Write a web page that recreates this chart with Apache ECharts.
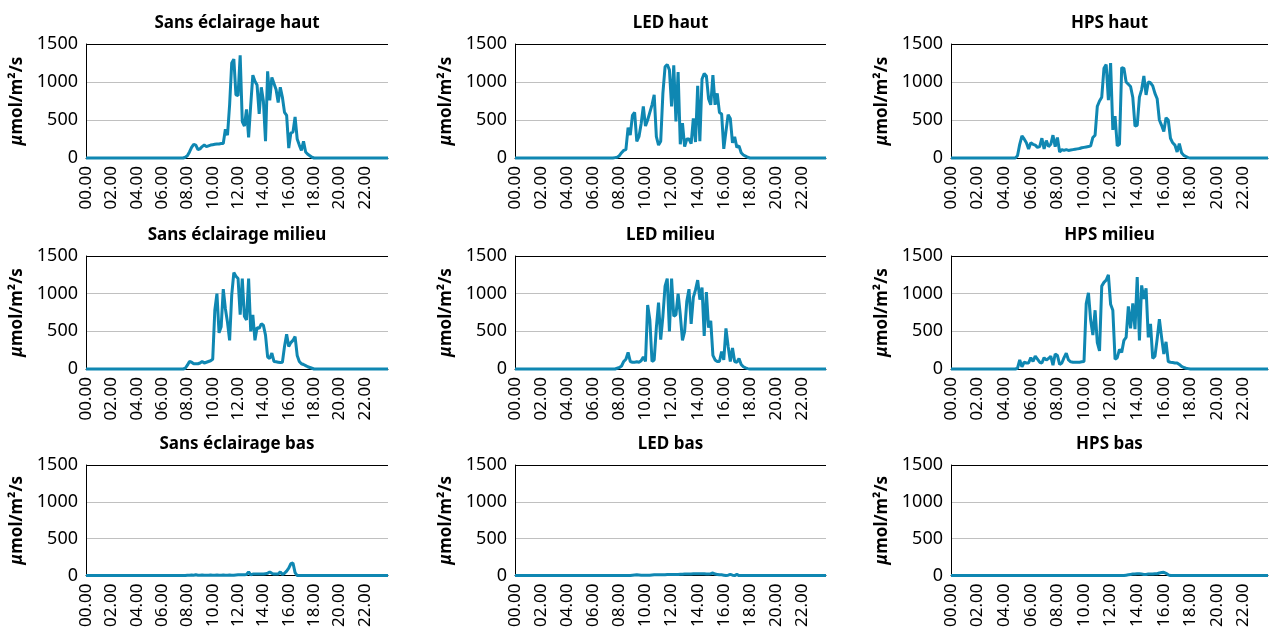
<!DOCTYPE html>
<html>
<head>
<meta charset="utf-8">
<script src="https://cdn.jsdelivr.net/npm/echarts@6/dist/echarts.min.js"></script>
<style>
html, body { margin: 0; padding: 0; background: #fff; }
#chart { width: 1269px; height: 630px; }
</style>
</head>
<body>
<div id="chart"></div>
<script>
// time of day, every 10 minutes
var times = [];
for (var h = 0; h < 24; h++) {
    for (var m = 0; m < 60; m += 10) {
        times.push((h < 10 ? '0' : '') + h + '.' + (m < 10 ? '0' : '') + m);
    }
}

var titles = ['Sans éclairage haut', 'LED haut', 'HPS haut',
              'Sans éclairage milieu', 'LED milieu', 'HPS milieu',
              'Sans éclairage bas', 'LED bas', 'HPS bas'];

var yTicks = [0, 500, 1000, 1500];

// µmol/m²/s, one row = 2 hours
var sansHaut = [
    0,0,0,0,0,0,0,0,0,0,0,0,
    0,0,0,0,0,0,0,0,0,0,0,0,
    0,0,0,0,0,0,0,0,0,0,0,0,
    0,0,0,0,0,0,0,0,0,0,0,10,
    30,80,140,180,170,110,120,150,170,150,160,170,
    175,180,185,185,190,190,380,300,700,1250,1300,830,
    820,1350,480,420,640,270,700,1090,1010,960,580,930,
    750,220,1140,760,1060,980,900,730,930,800,600,560,
    130,330,340,540,250,170,100,220,80,50,30,10,
    0,0,0,0,0,0,0,0,0,0,0,0,
    0,0,0,0,0,0,0,0,0,0,0,0,
    0,0,0,0,0,0,0,0,0,0,0,0
];
var ledHaut = [
    0,0,0,0,0,0,0,0,0,0,0,0,
    0,0,0,0,0,0,0,0,0,0,0,0,
    0,0,0,0,0,0,0,0,0,0,0,0,
    0,0,0,0,0,0,0,0,0,0,5,10,
    30,70,100,110,400,300,560,600,220,280,450,680,
    420,500,600,700,830,280,170,220,850,1200,1230,1160,
    680,1220,480,1130,180,460,150,250,250,190,520,210,
    950,220,1040,1110,1080,780,700,1090,700,850,600,580,
    120,350,570,520,200,280,140,160,70,40,25,10,
    0,0,0,0,0,0,0,0,0,0,0,0,
    0,0,0,0,0,0,0,0,0,0,0,0,
    0,0,0,0,0,0,0,0,0,0,0,0
];
var hpsHaut = [
    0,0,0,0,0,0,0,0,0,0,0,0,
    0,0,0,0,0,0,0,0,0,0,0,0,
    0,0,0,0,0,0,30,180,290,250,200,120,
    200,180,170,140,150,260,120,230,150,180,300,150,
    270,80,110,100,110,100,105,110,115,120,125,135,
    140,145,150,160,270,300,680,750,800,1180,1230,760,
    1250,370,550,160,180,1190,1180,1000,970,940,800,420,
    430,800,900,1080,830,1000,990,950,850,780,500,430,
    350,530,500,260,200,170,80,190,70,35,20,5,
    0,0,0,0,0,0,0,0,0,0,0,0,
    0,0,0,0,0,0,0,0,0,0,0,0,
    0,0,0,0,0,0,0,0,0,0,0,0
];
var sansMilieu = [
    0,0,0,0,0,0,0,0,0,0,0,0,
    0,0,0,0,0,0,0,0,0,0,0,0,
    0,0,0,0,0,0,0,0,0,0,0,0,
    0,0,0,0,0,0,0,0,0,0,0,10,
    50,100,90,70,70,70,80,100,80,90,100,110,
    130,780,1000,480,560,1060,800,620,380,980,1280,1230,
    1200,720,1200,700,650,1200,500,720,380,550,540,600,
    580,450,160,140,210,100,95,90,85,90,300,460,
    300,350,380,430,180,100,70,60,45,30,20,10,
    0,0,0,0,0,0,0,0,0,0,0,0,
    0,0,0,0,0,0,0,0,0,0,0,0,
    0,0,0,0,0,0,0,0,0,0,0,0
];
var ledMilieu = [
    0,0,0,0,0,0,0,0,0,0,0,0,
    0,0,0,0,0,0,0,0,0,0,0,0,
    0,0,0,0,0,0,0,0,0,0,0,0,
    0,0,0,0,0,0,0,0,0,0,0,10,
    20,40,100,130,220,100,90,90,95,90,110,160,
    100,850,650,100,120,550,880,390,700,1100,1200,500,
    1200,700,720,1000,720,380,500,900,1060,600,950,1050,
    1180,920,1080,440,1020,550,640,180,120,100,100,230,
    120,540,300,100,280,100,90,140,60,30,15,5,
    0,0,0,0,0,0,0,0,0,0,0,0,
    0,0,0,0,0,0,0,0,0,0,0,0,
    0,0,0,0,0,0,0,0,0,0,0,0
];
var hpsMilieu = [
    0,0,0,0,0,0,0,0,0,0,0,0,
    0,0,0,0,0,0,0,0,0,0,0,0,
    0,0,0,0,0,0,10,120,30,90,80,80,
    150,100,170,130,90,80,150,120,140,170,50,200,
    180,60,80,150,210,120,95,90,90,90,90,95,
    100,870,1010,650,450,780,350,240,1100,1150,1180,1250,
    860,780,130,150,260,220,380,420,830,540,870,530,
    1220,380,1110,930,1070,420,600,140,170,400,660,420,
    200,360,100,90,85,80,80,60,35,20,10,5,
    0,0,0,0,0,0,0,0,0,0,0,0,
    0,0,0,0,0,0,0,0,0,0,0,0,
    0,0,0,0,0,0,0,0,0,0,0,0
];
var sansBas = [
    0,0,0,0,0,0,0,0,0,0,0,0,
    0,0,0,0,0,0,0,0,0,0,0,0,
    0,0,0,0,0,0,0,0,0,0,0,0,
    0,0,0,0,0,0,0,0,0,0,0,0,
    5,5,8,5,10,5,5,8,5,5,5,8,
    5,5,8,5,5,8,5,5,8,5,5,8,
    10,10,10,10,15,50,10,20,20,20,20,20,
    20,25,30,50,30,20,20,20,50,15,30,60,
    100,160,170,40,0,0,0,0,0,0,0,0,
    0,0,0,0,0,0,0,0,0,0,0,0,
    0,0,0,0,0,0,0,0,0,0,0,0,
    0,0,0,0,0,0,0,0,0,0,0,0
];
var ledBas = [
    0,0,0,0,0,0,0,0,0,0,0,0,
    0,0,0,0,0,0,0,0,0,0,0,0,
    0,0,0,0,0,0,0,0,0,0,0,0,
    0,0,0,0,0,0,0,0,0,0,0,0,
    0,0,0,0,0,0,5,8,10,8,5,5,
    5,5,5,8,10,10,10,12,12,12,15,15,
    15,15,15,15,18,18,20,20,20,22,25,25,
    25,25,25,25,20,20,25,35,20,15,10,10,
    5,0,5,15,5,0,15,0,0,0,0,0,
    0,0,0,0,0,0,0,0,0,0,0,0,
    0,0,0,0,0,0,0,0,0,0,0,0,
    0,0,0,0,0,0,0,0,0,0,0,0
];
var hpsBas = [
    0,0,0,0,0,0,0,0,0,0,0,0,
    0,0,0,0,0,0,0,0,0,0,0,0,
    0,0,0,0,0,0,0,0,0,0,0,0,
    0,0,0,0,0,0,0,0,0,0,0,0,
    0,0,0,0,0,0,0,0,0,0,0,0,
    0,0,0,0,0,0,0,0,0,0,0,0,
    0,0,0,0,0,0,0,5,10,15,20,20,
    25,25,20,15,15,20,20,20,25,25,35,40,
    45,30,10,0,0,0,0,0,0,0,0,0,
    0,0,0,0,0,0,0,0,0,0,0,0,
    0,0,0,0,0,0,0,0,0,0,0,0,
    0,0,0,0,0,0,0,0,0,0,0,0
];

var panels = [sansHaut, ledHaut, hpsHaut, sansMilieu, ledMilieu, hpsMilieu, sansBas, ledBas, hpsBas];

var cols = [{left: 86, width: 302}, {left: 515, width: 311}, {left: 951, width: 317}];
var rows = [{top: 44, height: 114}, {top: 256, height: 113}, {top: 465, height: 112}];
var lineColor = '#0f87b2';
var font = 'Noto Sans';

var chart = echarts.init(document.getElementById('chart'));
var option = {
    animation: false,
    backgroundColor: '#fff',
    title: [], grid: [], xAxis: [], yAxis: [], series: []
};

panels.forEach(function (data, i) {
    var c = cols[i % 3], r = rows[Math.floor(i / 3)];
    option.grid.push({left: c.left, top: r.top, width: c.width, height: r.height});
    option.title.push({
        text: titles[i],
        left: c.left + c.width / 2,
        top: r.top - 29,
        textAlign: 'center',
        padding: 0,
        textStyle: {fontFamily: font, fontWeight: 'bold', fontSize: 17, color: '#000'}
    });
    option.xAxis.push({
        gridIndex: i,
        type: 'category',
        data: times,
        boundaryGap: false,
        axisLine: {lineStyle: {color: '#000', width: 1}},
        axisTick: {show: false},
        axisLabel: {
            interval: function (idx) { return idx % 12 === 0; },
            rotate: 90, margin: 8, fontFamily: font, fontSize: 17, color: '#000'
        },
        splitLine: {show: false}
    });
    option.yAxis.push({
        gridIndex: i,
        type: 'value',
        min: yTicks[0],
        max: yTicks[yTicks.length - 1],
        interval: 500,
        name: '{mu|μ}mol/m²/s',
        nameLocation: 'middle',
        nameRotate: 90,
        nameGap: 60,
        nameTextStyle: {
            fontFamily: font, fontWeight: 'bold', fontSize: 17, color: '#000',
            rich: {mu: {fontFamily: font, fontWeight: 'bold', fontStyle: 'italic', fontSize: 17, color: '#000'}}
        },
        axisLine: {show: true, lineStyle: {color: '#000', width: 1}},
        axisTick: {show: false},
        axisLabel: {
            margin: 8, fontFamily: font, fontSize: 18, color: '#000',
            formatter: function (v) { return String(v); }
        },
        splitLine: {show: true, lineStyle: {color: ['#000', '#c0c0c0', '#c0c0c0', '#000'], width: 1}}
    });
    option.series.push({
        type: 'line',
        xAxisIndex: i,
        yAxisIndex: i,
        data: data,
        showSymbol: false,
        clip: false,
        lineStyle: {color: lineColor, width: 3},
        itemStyle: {color: lineColor}
    });
});

chart.setOption(option);
</script>
</body>
</html>
